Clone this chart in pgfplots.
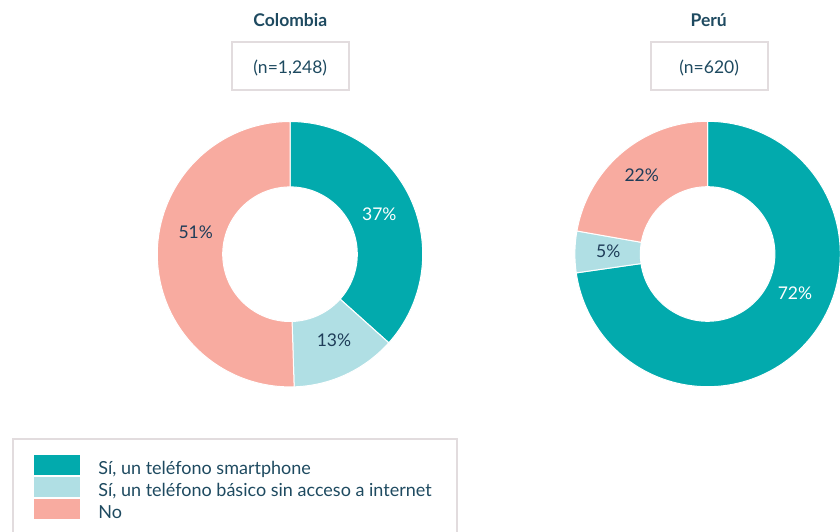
\documentclass[border=0pt]{standalone}
\usepackage{fontspec}
\setmainfont{Lato}
\usepackage{pgfplots}
\usepackage{pgfplotstable}
\pgfplotsset{compat=1.18}
\definecolor{cteal}{HTML}{02AAAD}
\definecolor{clight}{HTML}{B0DFE4}
\definecolor{cpink}{HTML}{F8ABA0}
\definecolor{ctext}{HTML}{1E4A60}
\definecolor{clab}{HTML}{1F3D59}
\definecolor{cframe}{HTML}{E2DCDE}

\pgfplotstableread{
country smart basic no
Colombia 37 13 51
Peru 72 5 22
}\shares

\newcommand\getshare[3]{\pgfplotstablegetelem{#1}{#2}\of\shares\edef#3{\pgfplotsretval}}
\getshare{0}{smart}\cs
\getshare{0}{basic}\cb
\getshare{0}{no}\cn
\getshare{1}{smart}\ps
\getshare{1}{basic}\pb
\getshare{1}{no}\pn
\pgfmathsetmacro\cT{\cs+\cb+\cn}
\pgfmathsetmacro\cAa{90-\cs/\cT*360}
\pgfmathsetmacro\cAb{\cAa-\cb/\cT*360}
\pgfmathsetmacro\pT{\ps+\pb+\pn}
\pgfmathsetmacro\pAa{90-\ps/\pT*360}
\pgfmathsetmacro\pAb{\pAa-\pb/\pT*360}

\def\Ro{132.7}
\def\Ri{67.3}
% ring slice: #1 cx, #2 cy, #3 low angle, #4 high angle, #5 colour
\newcommand\ringslice[5]{%
  \addplot[forget plot, fill=#5, draw=white, line width=1pt, domain=#3:#4, samples=120, variable=\t]
    ({#1+\Ro*cos(\t)},{#2+\Ro*sin(\t)})
    -- (axis cs:{#1+\Ri*cos(#4)},{#2+\Ri*sin(#4)})
    arc[start angle=#4, end angle=#3, radius=\Ri pt] -- cycle;
}

\begin{document}
\begin{tikzpicture}
\begin{axis}[name=ax,
  width=840pt, height=531pt, scale only axis,
  xmin=0, xmax=840, ymin=0, ymax=531,
  hide axis, clip=false,
  legend cell align=left,
  legend image code/.code={\fill[#1] (0pt,-4.5pt) rectangle (45pt,14.5pt);},
  legend style={at={(axis cs:34,76)}, anchor=north west, draw=none, fill=none,
    inner sep=0pt, outer sep=0pt, row sep=-1.2pt,
    font=\fontsize{18}{21}\selectfont, text=ctext,
    nodes={inner sep=0pt, text height=13pt, text depth=4pt},
    /tikz/every odd column/.append style={column sep=19pt}},
]
% Colombia
\ringslice{290}{276.8}{\cAa}{90}{cteal}
\ringslice{290}{276.8}{\cAb}{\cAa}{clight}
\ringslice{290}{276.8}{-270}{\cAb}{cpink}
% Peru
\ringslice{707.6}{277}{\pAa}{90}{cteal}
\ringslice{707.6}{277}{\pAb}{\pAa}{clight}
\ringslice{707.6}{277}{-270}{\pAb}{cpink}

\addlegendimage{cteal}\addlegendentry{Sí, un teléfono smartphone}
\addlegendimage{clight}\addlegendentry{Sí, un teléfono básico sin acceso a internet}
\addlegendimage{cpink}\addlegendentry{No}

% titles and sample sizes
\node[anchor=base, font=\bfseries\fontsize{17.5}{20}\selectfont, text=ctext] at (axis cs:290.3,504.3) {Colombia};
\node[anchor=base, font=\bfseries\fontsize{17.5}{20}\selectfont, text=ctext] at (axis cs:708.7,504.3) {Perú};
\draw[cframe, line width=2pt] (axis cs:231.7,489.3) rectangle (axis cs:349,441);
\draw[cframe, line width=2pt] (axis cs:650.7,489.3) rectangle (axis cs:767.7,441);
\node[anchor=base, font=\fontsize{17.5}{20}\selectfont, text=ctext] at (axis cs:290.3,457) {(n=1,248)};
\node[anchor=base, font=\fontsize{17.5}{20}\selectfont, text=ctext] at (axis cs:709.2,457) {(n=620)};

% percentage labels
\node[font=\fontsize{17.5}{20}\selectfont, text=white] at (axis cs:379.3,317) {\cs\%};
\node[font=\fontsize{17.5}{20}\selectfont, text=clab] at (axis cs:334,191) {\cb\%};
\node[font=\fontsize{17.5}{20}\selectfont, text=clab] at (axis cs:195.7,298.3) {\cn\%};
\node[font=\fontsize{17.5}{20}\selectfont, text=white] at (axis cs:795,237.7) {\ps\%};
\node[font=\fontsize{17.5}{20}\selectfont, text=clab] at (axis cs:608.3,279.3) {\pb\%};
\node[font=\fontsize{17.5}{20}\selectfont, text=clab] at (axis cs:641.7,355.3) {\pn\%};

% legend frame (cut by the bottom edge)
\draw[cframe, line width=2pt] (axis cs:13.3,-5) -- (axis cs:13.3,92) -- (axis cs:456.7,92) -- (axis cs:456.7,-5);
\end{axis}
\pgfresetboundingbox
\path (ax.south west) rectangle (ax.north east);
\end{tikzpicture}
\end{document}
